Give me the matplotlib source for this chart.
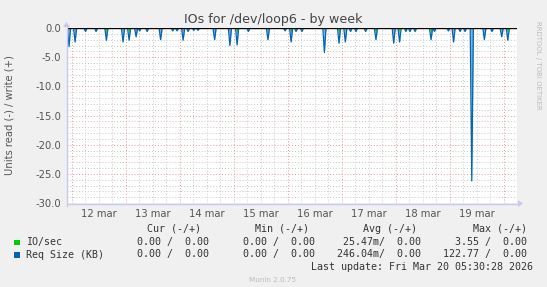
import matplotlib
matplotlib.use("Agg")
import matplotlib.pyplot as plt
import numpy as np

# ---------------- data (hours since 12 mar 00:00) ----------------
spike_hours = [-1.1, 1.6, 6.2, 10.9, 15.5, 22.9, 25.6, 28.7, 30.3, 33.6, 39.6, 45.0,
               46.9, 49.6, 51.8, 54.3, 56.2, 63.6, 70.4, 73.6, 78.6, 87.3, 94.9, 97.6,
               99.8, 102.4, 112.4, 118.9, 121.7, 124.0, 126.4, 130.7, 135.3, 143.2,
               145.8, 148.6, 150.4, 152.7, 159.8, 161.3, 167.5, 169.8, 172.7, 174.9,
               177.9, 183.5, 186.9, 191.2, 193.9]
reqsize_read = [-3.2, -2.4, -0.6, -0.6, -2.1, -2.4, -2.1, -1.5, -0.5, -0.6, -2.0, -0.5,
                -0.5, -2.1, -0.6, -0.4, -0.4, -2.0, -3.0, -2.9, -0.6, -2.0, -0.5, -2.4,
                -0.6, -0.6, -4.2, -2.6, -2.4, -0.6, -0.6, -0.6, -2.0, -2.6, -2.4, -0.6,
                -0.6, -0.6, -2.0, -0.6, -0.5, -2.4, -0.6, -0.6, -26.2, -2.0, -0.6, -1.5,
                -2.1]
iosec_hours = [15.5, 25.6, 73.6, 97.6, 118.9, 135.3, 145.8, 159.8, 193.9]
iosec_read = [-0.8, -0.8, -0.8, -0.8, -0.8, -0.8, -0.8, -0.8, -0.8]

day_labels = ["12 mar", "13 mar", "14 mar", "15 mar", "16 mar", "17 mar", "18 mar", "19 mar"]
y_ticks = [0.0, -5.0, -10.0, -15.0, -20.0, -25.0, -30.0]

legend_names = ["IO/sec", "Req Size (KB)"]
legend_colors = ["#00CC00", "#0066B3"]
col_headers = ["Cur (-/+)", "Min (-/+)", "Avg (-/+)", "Max (-/+)"]
legend_values = [["0.00 /  0.00", "0.00 /  0.00", "25.47m/  0.00", "3.55 /  0.00"],
                 ["0.00 /  0.00", "0.00 /  0.00", "246.04m/  0.00", "122.77 /  0.00"]]

# ---------------- figure ----------------
W, H = 547, 287
fig = plt.figure(figsize=(W / 100, H / 100), dpi=100, facecolor="#F0F0F0")
x0, x1, y0, y1 = 67, 517, 28, 203
ax = fig.add_axes([x0 / W, 1 - y1 / H, (x1 - x0) / W, (y1 - y0) / H])
ax.set_facecolor("#FFFFFF")

xmin, xmax = -2.0, 198.0
ax.set_xlim(xmin, xmax)
ax.set_ylim(-30, 0)

# grid
for h in np.arange(0, xmax, 6):
    if h % 24 == 0:
        continue
    ax.axvline(h, color="#C8C8C8", lw=0.7, ls=(0, (1, 2)), zorder=1)
for y in range(-29, 0):
    if y % 5 == 0:
        continue
    ax.axhline(y, color="#C8C8C8", lw=0.7, ls=(0, (1, 2)), zorder=1)
for h in np.arange(0, xmax, 24):
    ax.axvline(h, color="#E39A9A", lw=0.7, ls=(0, (1, 2)), zorder=1)
for y in y_ticks[1:-1]:
    ax.axhline(y, color="#E39A9A", lw=0.7, ls=(0, (1, 2)), zorder=1)

# spikes
hw = 0.7
t, v = [], []
for h, d in zip(spike_hours, reqsize_read):
    t += [h - hw, h, h + hw]
    v += [0, d, 0]
t = np.array(t); v = np.array(v)
ax.fill_between(t, v, 0, color="#7FB3E0", lw=0, zorder=2)
ax.plot(t, v, color="#0066B3", lw=0.9, zorder=3)

tg, vg = [], []
for h, d in zip(iosec_hours, iosec_read):
    tg += [h - 0.45, h, h + 0.45]
    vg += [0, d, 0]
ax.fill_between(tg, vg, 0, color="#00CC00", lw=0, zorder=4)

ax.axhline(0, color="black", lw=1.0, zorder=5)

for s in ax.spines.values():
    s.set_visible(False)
ax.tick_params(length=0)
ax.set_xticks([12 + 24 * i for i in range(len(day_labels))])
ax.set_xticklabels(day_labels, fontsize=7.2, color="#555555")
ax.set_yticks(y_ticks)
ax.set_yticklabels(["%.1f" % y for y in y_ticks], fontsize=7.2, color="#555555")
ax.tick_params(axis="x", pad=4)
ax.tick_params(axis="y", pad=4)

# axis lines with arrows (figure coords)
ax_col = "#C8C8F0"
fig.add_artist(plt.Line2D([x0 / W, (x1 + 2) / W], [1 - (y1 + 0.5) / H] * 2, color=ax_col, lw=1))
fig.add_artist(plt.Line2D([(x0 - 0.5) / W] * 2, [1 - (y1 + 3) / H, 1 - (y0 - 2) / H], color=ax_col, lw=1))
fig.add_artist(plt.Polygon([[(x1 + 1) / W, 1 - (y1 - 3) / H], [(x1 + 1) / W, 1 - (y1 + 4) / H],
                            [(x1 + 6) / W, 1 - (y1 + 0.5) / H]], closed=True, color=ax_col, lw=0))
fig.add_artist(plt.Polygon([[(x0 - 4) / W, 1 - (y0 - 1) / H], [(x0 + 3) / W, 1 - (y0 - 1) / H],
                            [(x0 - 0.5) / W, 1 - (y0 - 6) / H]], closed=True, color=ax_col, lw=0))

# texts
fig.text(273 / W, 1 - 19 / H, "IOs for /dev/loop6 - by week", ha="center", va="center",
         fontsize=9.1, color="#444444")
fig.text(10 / W, 1 - 115 / H, "Units read (-) / write (+)", rotation=90, ha="center",
         va="center", fontsize=7.2, color="#555555")
fig.text(538 / W, 1 - 65 / H, "RRDTOOL / TOBI OETIKER", rotation=270, ha="center",
         va="center", fontsize=5, color="#BBBBBB")

mono = "DejaVu Sans Mono"
fs = 7.2
col_right = [209, 315, 421, 527]
hdr_right = [201, 309, 417, 527]
for hdr, xr in zip(col_headers, hdr_right):
    fig.text(xr / W, 1 - 228.5 / H, hdr, ha="right", va="center", family=mono, fontsize=fs,
             color="#333333")
row_y = [242.3, 254.5]
for name, col, vals, ry in zip(legend_names, legend_colors, legend_values, row_y):
    fig.add_artist(plt.Rectangle((14 / W, 1 - (ry + 3) / H), 5.5 / W, 5.5 / H, color=col, lw=0))
    fig.text(26 / W, 1 - ry / H, name, ha="left", va="center", family=mono, fontsize=fs,
             color="#333333")
    for val, xr in zip(vals, col_right):
        fig.text(xr / W, 1 - ry / H, val, ha="right", va="center", family=mono, fontsize=fs,
                 color="#333333")
fig.text(533 / W, 1 - 266.8 / H, "Last update: Fri Mar 20 05:30:28 2026", ha="right",
         va="center", family=mono, fontsize=fs, color="#333333")
fig.text(273 / W, 1 - 280 / H, "Munin 2.0.75", ha="center", va="center", fontsize=5.2,
         color="#BBBBBB")

fig.savefig("out.png", dpi=100, facecolor=fig.get_facecolor())
